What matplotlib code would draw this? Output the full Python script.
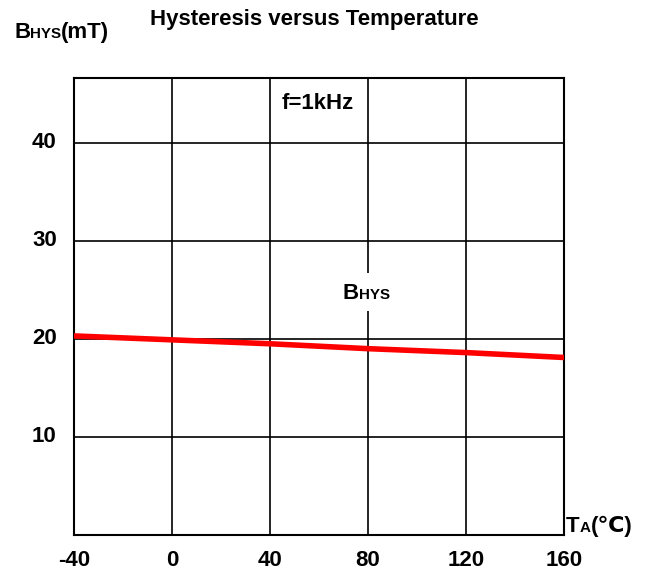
import matplotlib.pyplot as plt
from matplotlib.patches import Rectangle

# data
temps = [-40, 0, 40, 80, 120, 160]
b_hys = [20.3, 19.9, 19.5, 19.0, 18.6, 18.1]

x_ticks = [-40, 0, 40, 80, 120, 160]
x_tick_labels = ["-40", "0", "40", "80", "120", "160"]
y_ticks = [10, 20, 30, 40]
y_tick_labels = ["10", "20", "30", "40"]

FONT = ["Liberation Sans", "DejaVu Sans"]
SIZE = 16


def chain(fig, x_px, y_px, pieces):
    # write pieces (text, size) one after another on a shared baseline,
    # starting at pixel (x_px, y_px from top)
    renderer = fig.canvas.get_renderer()
    x = x_px
    H = fig.get_figheight() * fig.dpi
    W = fig.get_figwidth() * fig.dpi
    out = []
    for txt, size in pieces:
        t = fig.text(x / W, 1 - y_px / H, txt, ha="left", va="baseline",
                     fontsize=size, fontweight="bold", zorder=5)
        x = t.get_window_extent(renderer).x1
        out.append(t)
    return out


def main() -> None:
    plt.rcParams["font.family"] = FONT
    fig = plt.figure(figsize=(6.45, 5.76), dpi=100)
    ax = fig.add_axes([74 / 645, 41 / 576, 490 / 645, 457 / 576])

    ax.set_xlim(-40, 160)
    ax.set_ylim(0, 46.6)

    for x in x_ticks[1:-1]:
        ax.axvline(x, color="black", lw=1.2, zorder=1)
    for y in y_ticks:
        ax.axhline(y, color="black", lw=1.2, zorder=1)

    ax.plot(temps, b_hys, color="#ff0000", lw=4, solid_capstyle="round", zorder=3)

    ax.set_xticks([])
    ax.set_yticks([])
    for s in ax.spines.values():
        s.set_linewidth(1.5)

    for x, lab in zip(x_ticks, x_tick_labels):
        ax.text(x, -2.6, lab, ha="center", va="center", fontsize=SIZE,
                fontweight="bold")
    for y, lab in zip(y_ticks, y_tick_labels):
        ax.text(-47, y, lab, ha="right", va="center", fontsize=SIZE,
                fontweight="bold")

    ax.text(59.6, 44.0, "f=1kHz", ha="center", va="center", fontsize=SIZE,
            fontweight="bold", zorder=4,
            bbox=dict(facecolor="white", edgecolor="none", pad=6))
    # white gap in the 80 grid line behind the curve label
    ax.add_patch(Rectangle((76, 22.8), 6, 3.9, facecolor="white",
                           edgecolor="none", zorder=2))

    fig.text(314 / 645, 1 - 19 / 576, "Hysteresis versus Temperature",
             ha="center", va="center", fontsize=SIZE, fontweight="bold")

    chain(fig, 14, 38, [("B", SIZE), ("HYS", SIZE * 0.68), ("(mT)", SIZE)])
    chain(fig, 343, 299, [("B", SIZE), ("HYS", SIZE * 0.68)])
    chain(fig, 566, 532, [("T", SIZE), ("A", SIZE * 0.68), ("(\u2103)", SIZE)])

    fig.savefig("out.png", dpi=100)
    plt.close(fig)


if __name__ == "__main__":
    main()
